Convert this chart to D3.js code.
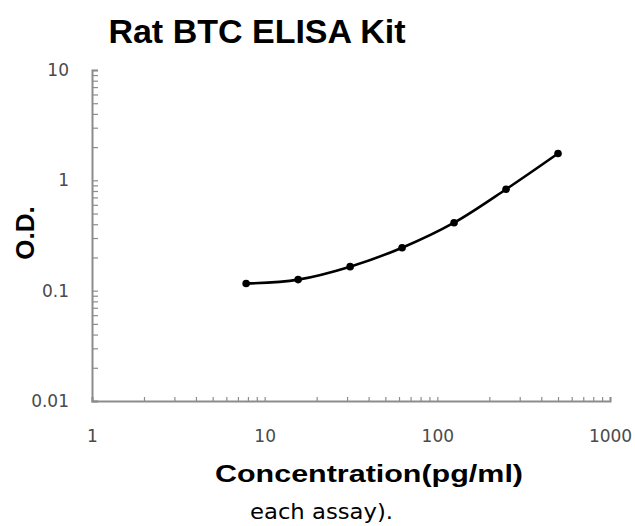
<!DOCTYPE html>
<html>
<head>
<meta charset="utf-8">
<script src="https://cdn.jsdelivr.net/npm/d3@7"></script>
<style>
  body { margin: 0; background: #fff; }
</style>
</head>
<body>
<svg id="chart" width="635" height="526"></svg>
<script>
// standard curve values
const concentrations = [7.8125, 15.625, 31.25, 62.5, 125, 250, 500];
const odValues = [0.116, 0.126, 0.165, 0.245, 0.413, 0.83, 1.75];
const xTickLabels = ['1', '10', '100', '1000'];
const yTickLabels = ['0.01', '0.1', '1', '10'];

const width = 635;
const height = 526;
const margin = { top: 70, right: 25, bottom: 125, left: 92 };

const svg = d3.select('#chart');

const x = d3.scaleLog()
  .domain([1, 1000])
  .range([margin.left, width - margin.right]);

const y = d3.scaleLog()
  .domain([0.01, 10])
  .range([height - margin.bottom, margin.top]);

// every log tick (1..9 per decade)
const logTicks = (lo, hi) => {
  const t = [];
  for (let e = lo; e < hi; e++) {
    for (let m = 1; m < 10; m++) t.push(+(m * Math.pow(10, e)).toPrecision(3));
  }
  t.push(Math.pow(10, hi));
  return t;
};

const xMajor = xTickLabels.map(Number);
const yMajor = yTickLabels.map(Number);

const xAxis = d3.axisBottom(x)
  .tickValues(logTicks(0, 3))
  .tickSize(-4)
  .tickPadding(29)
  .tickFormat(d => (xMajor.includes(d) ? String(d) : ''));

const yAxis = d3.axisLeft(y)
  .tickValues(logTicks(-2, 1))
  .tickSize(-6)
  .tickPadding(23)
  .tickFormat(d => (yMajor.includes(d) ? String(d) : ''));

const gx = svg.append('g')
  .attr('transform', `translate(0, ${height - margin.bottom})`)
  .call(xAxis);

const gy = svg.append('g')
  .attr('transform', `translate(${margin.left}, 0)`)
  .call(yAxis);

[gx, gy].forEach(g => {
  g.select('.domain').attr('stroke', '#8c8c8c').attr('stroke-width', 2);
  g.selectAll('.tick line').attr('stroke', '#8c8c8c').attr('stroke-width', 1.2);
  g.selectAll('.tick text')
    .attr('fill', '#4a4a4a')
    .style('font-family', 'DejaVu Sans, Verdana, sans-serif')
    .style('font-size', '17px');
});

// curve
const line = d3.line()
  .x((d, i) => x(concentrations[i]))
  .y(d => y(d))
  .curve(d3.curveCatmullRom);

svg.append('path')
  .datum(odValues)
  .attr('d', line)
  .attr('fill', 'none')
  .attr('stroke', '#000')
  .attr('stroke-width', 2.6);

svg.selectAll('circle.pt')
  .data(odValues)
  .enter()
  .append('circle')
  .attr('class', 'pt')
  .attr('cx', (d, i) => x(concentrations[i]))
  .attr('cy', d => y(d))
  .attr('r', 3.8)
  .attr('fill', '#000');

// title and labels
svg.append('text')
  .attr('x', 257)
  .attr('y', 43)
  .attr('text-anchor', 'middle')
  .style('font-family', 'Liberation Sans, Arial, sans-serif')
  .style('font-weight', 'bold')
  .style('font-size', '34px')
  .text('Rat BTC ELISA Kit');

svg.append('text')
  .attr('transform', 'translate(34, 233) rotate(-90)')
  .attr('text-anchor', 'middle')
  .style('font-family', 'Liberation Sans, Arial, sans-serif')
  .style('font-weight', 'bold')
  .style('font-size', '26px')
  .text('O.D.');

svg.append('text')
  .attr('x', 215)
  .attr('y', 482)
  .attr('textLength', 308)
  .attr('lengthAdjust', 'spacingAndGlyphs')
  .style('font-family', 'Liberation Sans, Arial, sans-serif')
  .style('font-weight', 'bold')
  .style('font-size', '24px')
  .text('Concentration(pg/ml)');

svg.append('text')
  .attr('x', 250)
  .attr('y', 519)
  .attr('textLength', 143)
  .attr('lengthAdjust', 'spacingAndGlyphs')
  .style('font-family', 'DejaVu Sans, Tahoma, sans-serif')
  .style('font-size', '22px')
  .attr('fill', '#000')
  .text('each assay).');
</script>
</body>
</html>
